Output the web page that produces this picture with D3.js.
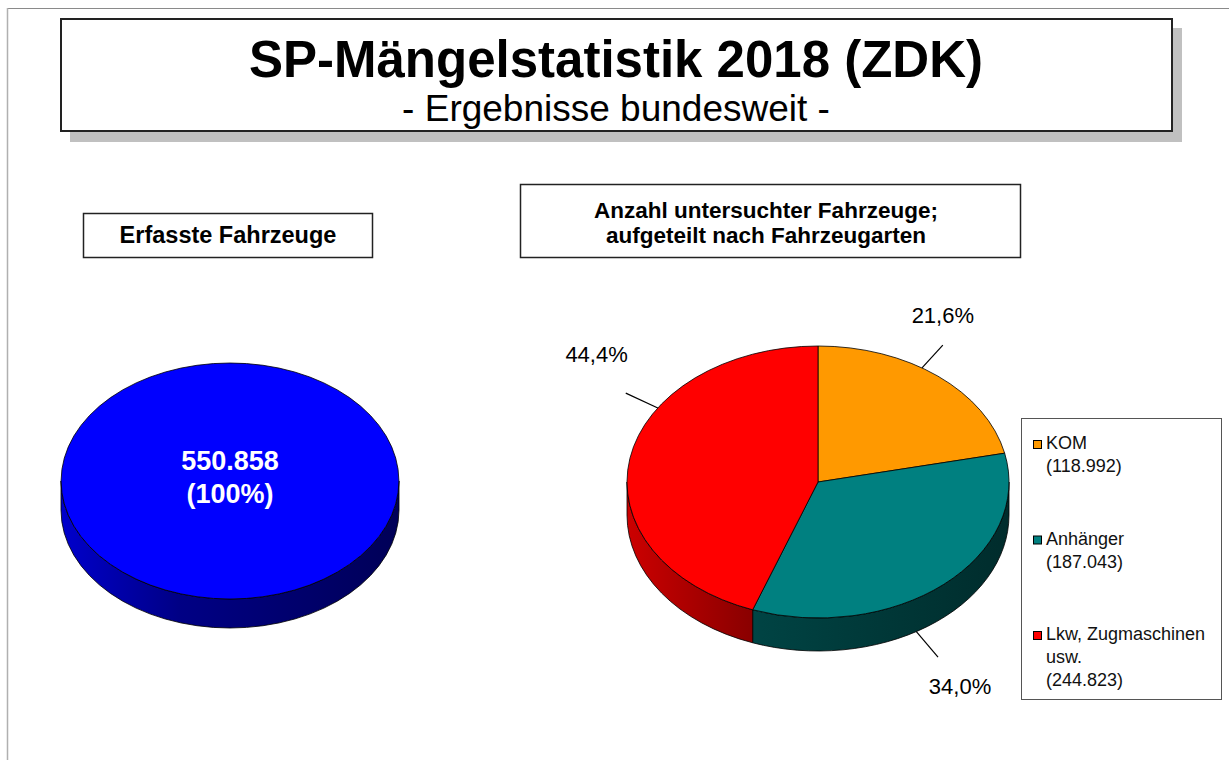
<!DOCTYPE html>
<html>
  <head>
    <meta charset="utf-8">
    <title>SP-Mängelstatistik 2018 (ZDK)</title>
    <script src="https://d3js.org/d3.v7.min.js"></script>
    <style>
      body { margin: 0; background: #fff; }
      svg { display: block; font-family: "Liberation Sans", Arial, sans-serif; }
    </style>
  </head>
  <body>
    <div id="chart"></div>
    <script>
      // data
      var categories = ["KOM", "Anhänger", "Lkw, Zugmaschinen usw."];
      var values = [118992, 187043, 244823];
      var colors = ["#ff9900", "#008080", "#ff0000"];
      var totalColor = "#0000ff";

      var de = d3.formatLocale({decimal: ",", thousands: ".", grouping: [3], currency: ["", " €"]});
      var fmtNum = de.format(",");
      var fmtPct = de.format(".1%");

      var total = d3.sum(values);

      var width = 1229, height = 760;
      var svg = d3.select("#chart").append("svg")
        .attr("width", width)
        .attr("height", height);

      var defs = svg.append("defs");

      // page frame
      svg.append("line").attr("x1", 7).attr("x2", width).attr("y1", 8.5).attr("y2", 8.5)
        .attr("stroke", "#8a8a8a").attr("stroke-width", 1);
      svg.append("line").attr("x1", 7.5).attr("x2", 7.5).attr("y1", 8).attr("y2", height)
        .attr("stroke", "#b0b0b0").attr("stroke-width", 1.5);

      // title box with shadow
      svg.append("rect").attr("x", 70).attr("y", 28).attr("width", 1112).attr("height", 114)
        .attr("fill", "#c0c0c0");
      svg.append("rect").attr("x", 61).attr("y", 19).attr("width", 1111).attr("height", 112)
        .attr("fill", "#fff").attr("stroke", "#222").attr("stroke-width", 2);
      svg.append("text").attr("x", 616).attr("y", 77).attr("text-anchor", "middle")
        .attr("font-size", 51).attr("font-weight", "bold")
        .text("SP-Mängelstatistik 2018 (ZDK)");
      svg.append("text").attr("x", 616).attr("y", 121).attr("text-anchor", "middle")
        .attr("font-size", 37)
        .text("- Ergebnisse bundesweit -");

      // sub headings
      svg.append("rect").attr("x", 83.5).attr("y", 213.5).attr("width", 289).attr("height", 44)
        .attr("fill", "#fff").attr("stroke", "#222").attr("stroke-width", 1.5);
      svg.append("text").attr("x", 228).attr("y", 243).attr("text-anchor", "middle")
        .attr("font-size", 23.5).attr("font-weight", "bold")
        .text("Erfasste Fahrzeuge");

      svg.append("rect").attr("x", 520.5).attr("y", 184.5).attr("width", 500).attr("height", 73)
        .attr("fill", "#fff").attr("stroke", "#222").attr("stroke-width", 1.5);
      var sub = svg.append("text").attr("text-anchor", "middle")
        .attr("font-size", 22.5).attr("font-weight", "bold");
      sub.append("tspan").attr("x", 766).attr("y", 218).text("Anzahl untersuchter Fahrzeuge;");
      sub.append("tspan").attr("x", 766).attr("y", 243).text("aufgeteilt nach Fahrzeugarten");

      // 3d pie helpers
      function pt(p, a, s) {
        s = s || 1;
        return [p.cx + p.rx * s * Math.sin(a), p.cy - p.ry * s * Math.cos(a)];
      }

      function topPath(p, a0, a1) {
        if (a1 - a0 >= 2 * Math.PI - 1e-6) {
          var t = pt(p, 0), b = pt(p, Math.PI);
          return "M" + t + "A" + p.rx + "," + p.ry + " 0 0 1 " + b +
                 "A" + p.rx + "," + p.ry + " 0 0 1 " + t + "Z";
        }
        var s = pt(p, a0), e = pt(p, a1);
        var large = (a1 - a0) > Math.PI ? 1 : 0;
        return "M" + p.cx + "," + p.cy + "L" + s +
               "A" + p.rx + "," + p.ry + " 0 " + large + " 1 " + e + "Z";
      }

      function sidePath(p, a0, a1) {
        var b0 = Math.max(a0, Math.PI / 2), b1 = Math.min(a1, 3 * Math.PI / 2);
        if (b1 <= b0) return null;
        var s = pt(p, b0), e = pt(p, b1);
        return "M" + s + "A" + p.rx + "," + p.ry + " 0 0 1 " + e +
               "L" + e[0] + "," + (e[1] + p.depth) +
               "A" + p.rx + "," + p.ry + " 0 0 0 " + s[0] + "," + (s[1] + p.depth) + "Z";
      }

      var gradId = 0;
      function sideGradient(p, color) {
        var id = "side" + (gradId++);
        var c = d3.rgb(color);
        var g = defs.append("linearGradient").attr("id", id)
          .attr("gradientUnits", "userSpaceOnUse")
          .attr("x1", p.cx - p.rx).attr("x2", p.cx + p.rx).attr("y1", 0).attr("y2", 0);
        [[0, 0.8], [0.35, 0.52], [1, 0.34]].forEach(function(st) {
          g.append("stop").attr("offset", st[0])
            .attr("stop-color", d3.rgb(c.r * st[1], c.g * st[1], c.b * st[1]).formatHex());
        });
        return "url(#" + id + ")";
      }

      function drawPie(p, slices, fills) {
        var g = svg.append("g");
        slices.forEach(function(d, i) {
          var sp = sidePath(p, d.startAngle, d.endAngle);
          if (sp) g.append("path").attr("d", sp).attr("fill", sideGradient(p, fills[i]))
            .attr("stroke", "#000").attr("stroke-width", 0.8);
        });
        slices.forEach(function(d, i) {
          g.append("path").attr("d", topPath(p, d.startAngle, d.endAngle))
            .attr("fill", fills[i]).attr("stroke", "#000").attr("stroke-width", 0.8);
        });
        return g;
      }

      var pie = d3.pie().sort(null).value(function(d) { return d; });

      // left pie: total
      var leftPie = {cx: 230, cy: 481, rx: 169, ry: 118, depth: 29};
      drawPie(leftPie, pie([total]), [totalColor]);
      var tl = svg.append("text").attr("text-anchor", "middle").attr("fill", "#fff")
        .attr("font-size", 27).attr("font-weight", "bold");
      tl.append("tspan").attr("x", leftPie.cx).attr("y", 470).text(fmtNum(total));
      tl.append("tspan").attr("x", leftPie.cx).attr("y", 503).text("(" + de.format(".0%")(1) + ")");

      // right pie: breakdown
      var rightPie = {cx: 818, cy: 482, rx: 191, ry: 136, depth: 33};
      var slices = pie(values);
      drawPie(rightPie, slices, colors);

      // data labels with leader lines (placement as on the slide)
      var labelLayout = [
        {angle: 33, out: 1.2, anchor: "middle", dx: 0, dy: -22},
        {angle: 149, out: 1.22, anchor: "middle", dx: 22, dy: 37},
        {angle: 303, out: 1.2, anchor: "end", dx: 2, dy: -31}
      ];
      slices.forEach(function(d, i) {
        var L = labelLayout[i];
        var a = L.angle * Math.PI / 180;
        var front = a > Math.PI / 2 && a < 3 * Math.PI / 2;
        var off = front ? rightPie.depth : 0;
        var s = pt(rightPie, a), e = pt(rightPie, a, L.out);
        svg.append("line")
          .attr("x1", s[0]).attr("y1", s[1] + off)
          .attr("x2", e[0]).attr("y2", e[1] + off)
          .attr("stroke", "#000").attr("stroke-width", 1.2);
        svg.append("text")
          .attr("x", e[0] + L.dx).attr("y", e[1] + off + L.dy)
          .attr("text-anchor", L.anchor).attr("font-size", 22)
          .text(fmtPct(d.value / total));
      });

      // legend
      var legend = svg.append("g");
      legend.append("rect").attr("x", 1021.5).attr("y", 418.5).attr("width", 200).attr("height", 281)
        .attr("fill", "#fff").attr("stroke", "#555").attr("stroke-width", 1);
      var legY = d3.scalePoint().domain(categories).range([449, 640]);
      categories.forEach(function(c, i) {
        var y = legY(c);
        legend.append("rect").attr("x", 1033.5).attr("y", y - 8.5).attr("width", 8).attr("height", 8)
          .attr("fill", colors[i]).attr("stroke", "#000").attr("stroke-width", 1);
        var t = legend.append("text").attr("font-size", 18).attr("fill", "#111");
        // wrap long names to the legend width
        var words = c.split(" "), line = [], lines = [];
        words.forEach(function(w) {
          var probe = t.append("tspan").text(line.concat(w).join(" "));
          var wpx = probe.node().getComputedTextLength();
          probe.remove();
          if (wpx > 168 && line.length) { lines.push(line.join(" ")); line = [w]; }
          else line.push(w);
        });
        lines.push(line.join(" "));
        lines.push("(" + fmtNum(values[i]) + ")");
        lines.forEach(function(l, k) {
          t.append("tspan").attr("x", 1046).attr("y", y + k * 23).text(l);
        });
      });
    </script>
  </body>
</html>
